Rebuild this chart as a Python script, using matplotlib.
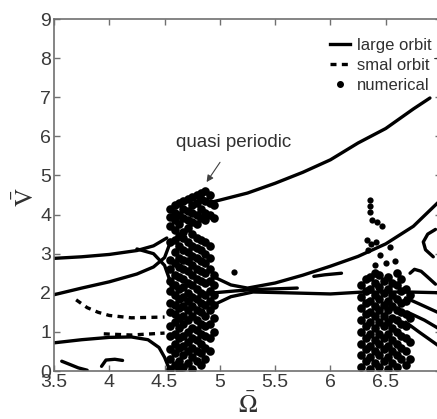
import numpy as np
import matplotlib.pyplot as plt
from matplotlib.lines import Line2D

plt.rcParams['font.family'] = ['Liberation Sans', 'DejaVu Sans']
plt.rcParams['mathtext.fontset'] = 'stix'

# large orbit branches (solid)
top_x = [3.5, 3.75, 4.0, 4.25, 4.4, 4.52]
top_y = [2.88, 2.92, 2.98, 3.08, 3.2, 3.4]
mid_x = [3.5, 3.75, 4.0, 4.25, 4.4, 4.5, 4.54]
mid_y = [1.95, 2.12, 2.28, 2.48, 2.66, 2.9, 3.2]
cross_x = [4.25, 4.4, 4.5, 4.55, 4.57]
cross_y = [3.12, 3.0, 2.7, 2.3, 2.0]
low_x = [3.5, 3.75, 4.0, 4.2, 4.35, 4.45, 4.5, 4.55]
low_y = [0.72, 0.8, 0.86, 0.87, 0.8, 0.6, 0.35, 0.0]
upper_x = [4.9, 5.0, 5.25, 5.5, 5.75, 6.0, 6.25, 6.5, 6.75, 6.9]
upper_y = [4.3, 4.37, 4.55, 4.8, 5.08, 5.4, 5.83, 6.2, 6.7, 6.98]
rise_x = [4.95, 5.1, 5.25, 5.5, 5.75, 6.0, 6.25, 6.5, 6.75, 6.97]
rise_y = [2.4, 2.2, 2.12, 2.25, 2.45, 2.68, 2.93, 3.25, 3.7, 4.3]
flat_x = [4.95, 5.1, 5.3, 5.6, 6.0, 6.3, 6.7, 7.0]
flat_y = [1.7, 1.9, 2.02, 2.0, 1.97, 2.02, 2.02, 2.0]
conv_x = [4.95, 5.15, 5.3, 5.7]
conv_y = [2.0, 2.05, 2.08, 2.12]

# small orbit branches (dashed)
dash1_x = [3.7, 3.8, 3.9, 4.0, 4.2, 4.5]
dash1_y = [1.82, 1.62, 1.5, 1.42, 1.36, 1.38]
dash2_x = [3.95, 4.2, 4.5]
dash2_y = [0.95, 0.92, 0.97]

# numerical branches / fragments
frag_segments = [
    ([3.57, 3.65, 3.72, 3.8], [0.25, 0.16, 0.08, 0.02]),
    ([3.93, 3.97, 4.05, 4.12], [0.12, 0.28, 0.3, 0.27]),
    ([5.85, 5.95, 6.1], [2.42, 2.46, 2.5]),
    ([6.95, 6.88, 6.84, 6.86, 6.93], [3.62, 3.5, 3.3, 3.1, 2.92]),
    ([6.72, 6.76, 6.82, 6.88, 6.95], [2.5, 2.6, 2.55, 2.4, 2.22]),
    ([6.68, 6.8, 6.97], [1.87, 1.72, 1.5]),
    ([6.7, 6.85, 6.97], [1.5, 1.3, 1.1]),
    ([6.68, 6.8, 6.97], [1.25, 1.0, 0.66]),
]

# chaotic cloud near 4.5-5 (columns of points)
cloud1_cols = [4.55, 4.59, 4.63, 4.67, 4.71, 4.75, 4.79, 4.83, 4.87, 4.91, 4.95]
cloud1_vals = [
    [0.05, 0.3, 0.55, 0.9, 1.15, 1.5, 1.75, 2.05, 2.3, 2.6, 2.85, 3.3, 3.7, 3.95, 4.15],
    [0.15, 0.45, 0.7, 0.95, 1.25, 1.45, 1.7, 1.95, 2.2, 2.45, 2.75, 3.05, 3.35, 3.6, 3.85, 4.05, 4.25],
    [0.05, 0.25, 0.6, 0.85, 1.1, 1.35, 1.6, 1.85, 2.1, 2.4, 2.65, 2.9, 3.2, 3.45, 3.75, 4.0, 4.3],
    [0.1, 0.4, 0.65, 0.9, 1.2, 1.4, 1.65, 1.9, 2.15, 2.35, 2.6, 2.85, 3.1, 3.4, 3.55, 3.9, 4.15, 4.35],
    [0.2, 0.5, 0.75, 1.0, 1.3, 1.55, 1.8, 2.0, 2.25, 2.55, 2.8, 3.05, 3.3, 3.65, 3.85, 4.1, 4.4],
    [0.05, 0.35, 0.6, 0.85, 1.1, 1.4, 1.65, 1.9, 2.2, 2.45, 2.7, 2.95, 3.2, 3.5, 3.8, 4.05, 4.25, 4.45],
    [0.25, 0.5, 0.8, 1.05, 1.3, 1.55, 1.85, 2.1, 2.35, 2.6, 2.9, 3.15, 3.4, 3.75, 4.0, 4.3, 4.5],
    [0.15, 0.45, 0.7, 0.95, 1.2, 1.5, 1.75, 2.0, 2.3, 2.55, 2.8, 3.1, 3.35, 3.9, 4.15, 4.4, 4.55],
    [0.3, 0.6, 0.9, 1.15, 1.4, 1.7, 1.95, 2.25, 2.5, 2.75, 3.0, 3.3, 3.85, 4.05, 4.35, 4.6],
    [0.5, 0.85, 1.2, 1.55, 1.8, 2.05, 2.3, 2.6, 2.9, 3.2, 4.0, 4.3, 4.5],
    [1.0, 1.35, 1.7, 1.95, 2.2, 2.45, 3.9, 4.25],
]

# chaotic cloud near 6.3-6.7
cloud2_cols = [6.28, 6.32, 6.36, 6.40, 6.44, 6.48, 6.52, 6.56, 6.60, 6.64, 6.68, 6.72]
cloud2_vals = [
    [0.1, 0.4, 0.7, 1.0, 1.3, 1.6, 1.9, 2.2],
    [0.25, 0.55, 0.85, 1.15, 1.45, 1.75, 2.05, 2.35],
    [0.05, 0.35, 0.65, 0.95, 1.25, 1.5, 1.8, 2.1, 2.4],
    [0.2, 0.5, 0.8, 1.1, 1.4, 1.65, 1.95, 2.25, 2.5],
    [0.1, 0.4, 0.7, 0.95, 1.25, 1.55, 1.85, 2.15, 2.45],
    [0.25, 0.55, 0.85, 1.15, 1.4, 1.7, 2.0, 2.3],
    [0.05, 0.35, 0.65, 0.95, 1.25, 1.55, 1.8, 2.1, 2.4],
    [0.2, 0.5, 0.8, 1.1, 1.35, 1.65, 1.95, 2.25],
    [0.1, 0.4, 0.7, 1.0, 1.3, 1.55, 1.85, 2.2, 2.5],
    [0.3, 0.6, 0.9, 1.2, 1.5, 1.75, 2.05, 2.35],
    [0.15, 0.5, 0.85, 1.15, 1.45, 1.8, 2.1],
    [0.3, 0.75, 1.35, 1.95],
]

# scattered numerical points
scat_x = [6.36, 6.36, 6.36, 6.38, 6.42, 6.47, 6.33, 6.37, 6.41, 6.34, 6.45, 6.54, 6.4, 6.5, 6.58, 5.13]
scat_y = [4.37, 4.22, 4.07, 3.85, 3.8, 3.72, 3.35, 3.25, 3.3, 3.1, 2.97, 3.17, 2.7, 2.75, 2.8, 2.53]

xticks = [3.5, 4, 4.5, 5, 5.5, 6, 6.5, 7]
xtick_labels = ['3.5', '4', '4.5', '5', '5.5', '6', '6.5', '7']
yticks = list(range(10))

fig = plt.figure(figsize=(4.37, 4.19), dpi=100)
ax = fig.add_axes([54/437, 1 - 371/419, 387/437, 352/419])

lw = 2.4
for xs, ys in [(top_x, top_y), (mid_x, mid_y), (cross_x, cross_y), (low_x, low_y),
               (upper_x, upper_y), (rise_x, rise_y), (flat_x, flat_y), (conv_x, conv_y)]:
    ax.plot(xs, ys, color='black', lw=lw, solid_capstyle='round')
for xs, ys in frag_segments:
    ax.plot(xs, ys, color='black', lw=lw, solid_capstyle='round')
for xs, ys in [(dash1_x, dash1_y), (dash2_x, dash2_y)]:
    ax.plot(xs, ys, color='black', lw=lw, dashes=(1.8, 1.6))

ms = 6.2
for cx, vals in zip(cloud1_cols, cloud1_vals):
    ax.plot([cx] * len(vals), vals, 'o', color='black', ms=ms, mew=0)
for cx, vals in zip(cloud2_cols, cloud2_vals):
    ax.plot([cx] * len(vals), vals, 'o', color='black', ms=ms, mew=0)
ax.plot(scat_x, scat_y, 'o', color='black', ms=4.5, mew=0)

ax.set_xlim(3.5, 7)
ax.set_ylim(0, 9)
ax.set_xticks(xticks)
ax.set_xticklabels(xtick_labels)
ax.set_yticks(yticks)
ax.tick_params(direction='in', top=True, right=True, length=4, width=1,
               color='#707070', labelsize=14, labelcolor='#3a3a3a', pad=2)
for sp in ax.spines.values():
    sp.set_color('#707070')
    sp.set_linewidth(1.2)

fig.text(26/437, 1 - 197/419, r'$\bar{\mathrm{V}}$', fontsize=18, color='#303030',
         rotation=90, ha='center', va='center')
fig.text(248/437, 1 - 405/419, r'$\bar{\Omega}$', fontsize=18, color='#303030',
         ha='center', va='center')

ax.annotate('quasi periodic', xy=(4.88, 4.83), xytext=(5.12, 5.83),
            ha='center', va='center', fontsize=13.5, color='#303030',
            arrowprops=dict(arrowstyle='-|>', color='#404040', lw=0.8,
                            mutation_scale=10, shrinkA=7, shrinkB=0))

handles = [Line2D([], [], color='black', lw=2.4),
           Line2D([], [], color='black', lw=2.4, dashes=(1.8, 1.6)),
           Line2D([], [], color='black', ls='none', marker='o', ms=4)]
leg = fig.legend(handles, ['large orbit', 'smal orbit T', 'numerical'],
                 loc='upper left', bbox_to_anchor=(322/437, 1 - 30/419),
                 frameon=False, fontsize=12, handlelength=1.2, handletextpad=0.4,
                 borderpad=0, labelspacing=0.3)
for t in leg.get_texts():
    t.set_color('#303030')

fig.savefig('out.png', dpi=100)
